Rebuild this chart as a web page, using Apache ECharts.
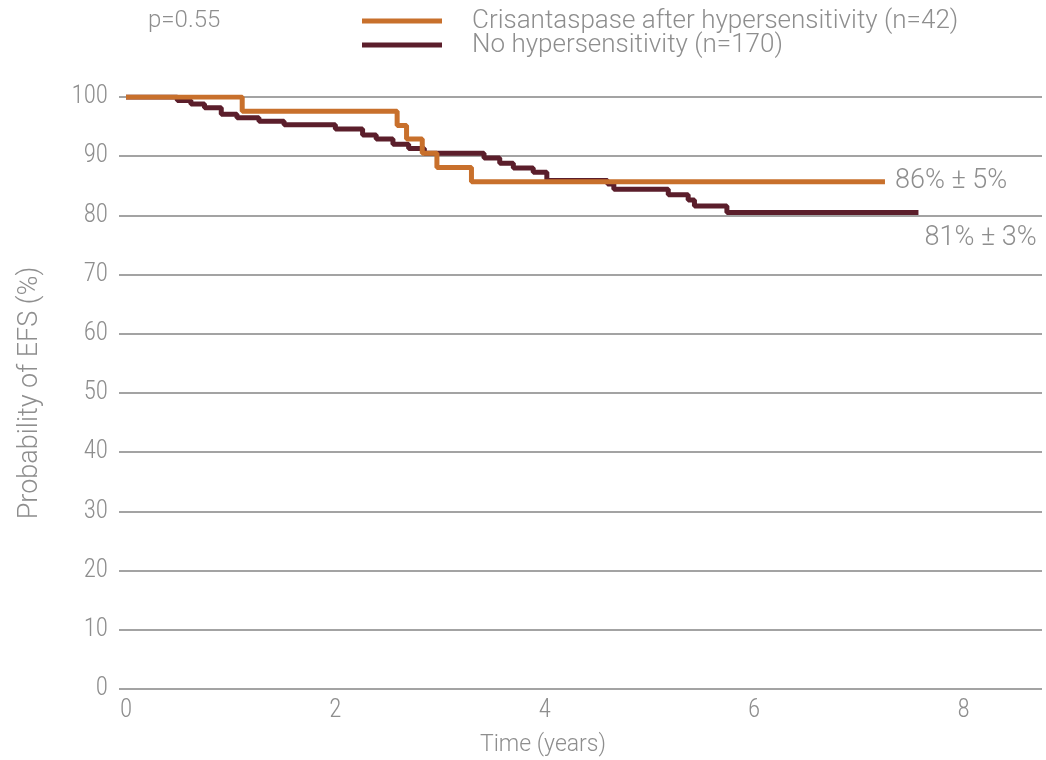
<!DOCTYPE html>
<html>
<head>
<meta charset="utf-8">
<script src="https://cdn.jsdelivr.net/npm/echarts@6/dist/echarts.min.js"></script>
<style>
  html, body { margin: 0; padding: 0; background: #ffffff; }
  #chart { width: 1046px; height: 760px; }
</style>
</head>
<body>
<div id="chart"></div>
<script>
// Kaplan-Meier event-free survival, two groups
const crisTime = [0, 1.11, 2.59, 2.68, 2.83, 2.97, 3.30, 7.25];
const crisSurv = [100, 97.6, 95.2, 92.9, 90.5, 88.1, 85.7, 85.7];

const noHyperTime = [0, 0.49, 0.62, 0.75, 0.91, 1.06, 1.27, 1.51, 2.00, 2.26, 2.39, 2.55, 2.70, 2.85,
  3.42, 3.57, 3.70, 3.89, 4.02, 4.60, 4.66, 5.18, 5.37, 5.43, 5.74, 7.57];
const noHyperSurv = [100, 99.4, 98.8, 98.2, 97.1, 96.5, 95.9, 95.3, 94.6, 93.6, 92.9, 92.0, 91.3, 90.5,
  89.7, 88.8, 88.0, 87.3, 85.9, 85.3, 84.4, 83.5, 82.6, 81.6, 80.5, 80.5];

const seriesNames = ['Crisantaspase after hypersensitivity (n=42)', 'No hypersensitivity (n=170)'];
const endLabels = ['86% ± 5%', '81% ± 3%'];
const pValueText = 'p=0.55';
const xTitle = 'Time (years)';
const yTitle = 'Probability of EFS (%)';
const xTicks = [0, 2, 4, 6, 8];

const FONT = "Roboto, 'Liberation Sans', sans-serif";
const NUM_FONT = "'Roboto Condensed', Roboto, sans-serif";
const TEXT = '#8e8e8e';
const GRID = '#a3a3a3';
const ORANGE = '#c8702c';
const MAROON = '#5b1e2b';

const pairs = (xs, ys) => xs.map((x, i) => [x, ys[i]]);

const chart = echarts.init(document.getElementById('chart'));
chart.setOption({
  animation: false,
  backgroundColor: '#ffffff',
  textStyle: { fontFamily: FONT, fontWeight: 300 },
  grid: { left: 126, right: 4, top: 97, bottom: 71, containLabel: false },
  legend: {
    orient: 'vertical',
    left: 357,
    top: 3,
    itemWidth: 80,
    itemHeight: 5,
    itemGap: -2,
    icon: 'rect',
    data: seriesNames,
    selectedMode: false,
    textStyle: {
      color: TEXT, fontSize: 26, fontFamily: FONT, fontWeight: 300,
      lineHeight: 25, padding: [0, 0, 0, 25]
    }
  },
  xAxis: {
    type: 'value',
    min: 0,
    max: 8.75,
    interval: 2,
    axisLine: { show: false },
    axisTick: { show: false },
    splitLine: { show: false },
    axisLabel: {
      color: TEXT, fontSize: 25, fontFamily: NUM_FONT, fontWeight: 300, margin: 9,
      showMaxLabel: false,
      formatter: v => (xTicks.indexOf(v) >= 0 ? String(v) : '')
    }
  },
  yAxis: {
    type: 'value',
    min: 0,
    max: 100,
    interval: 10,
    name: yTitle,
    nameLocation: 'middle',
    nameGap: 82,
    nameTextStyle: { color: TEXT, fontSize: 27, fontFamily: FONT, fontWeight: 300 },
    axisLine: { show: false },
    axisTick: { show: true, length: 7, lineStyle: { color: GRID, width: 2 } },
    splitLine: { show: true, lineStyle: { color: GRID, width: 2 } },
    axisLabel: { color: TEXT, fontSize: 25, fontFamily: NUM_FONT, fontWeight: 300, margin: 18 }
  },
  graphic: [
    {
      type: 'text', left: 148, top: 9,
      style: { text: pValueText, fill: TEXT, font: '300 24px ' + FONT }
    },
    {
      type: 'text', x: 543, y: 745,
      style: {
        text: xTitle, fill: TEXT, font: '300 23px ' + FONT,
        textAlign: 'center', textVerticalAlign: 'middle'
      }
    }
  ],
  series: [
    {
      name: seriesNames[1],
      type: 'line',
      step: 'end',
      showSymbol: false,
      z: 2,
      data: pairs(noHyperTime, noHyperSurv),
      color: MAROON,
      lineStyle: { color: MAROON, width: 5 },
      endLabel: {
        show: true, formatter: endLabels[1], color: TEXT, fontSize: 27,
        fontFamily: FONT, fontWeight: 300, offset: [-2, 26]
      }
    },
    {
      name: seriesNames[0],
      type: 'line',
      step: 'end',
      showSymbol: false,
      z: 3,
      data: pairs(crisTime, crisSurv),
      color: ORANGE,
      lineStyle: { color: ORANGE, width: 5 },
      endLabel: {
        show: true, formatter: endLabels[0], color: TEXT, fontSize: 27,
        fontFamily: FONT, fontWeight: 300, offset: [2, 0]
      }
    }
  ]
});
</script>
</body>
</html>
